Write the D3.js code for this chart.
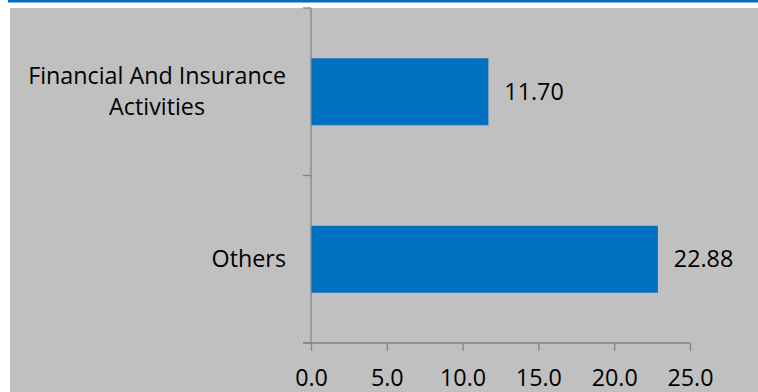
<!DOCTYPE html>
<html>
<head>
<meta charset="utf-8">
<script src="https://cdn.jsdelivr.net/npm/d3@7"></script>
<style>
  body { margin: 0; background: #fff; }
  text { font-family: "Open Sans", sans-serif; fill: #000; font-variant-ligatures: none; }
</style>
</head>
<body>
<div class="chart"></div>
<script>
var width = 758
  , height = 392
  , fontSize = 23.3
  ;

var categories = ["Financial And Insurance Activities", "Others"];
var categoryLines = [["Financial And Insurance", "Activities"], ["Others"]];
var values = [11.70, 22.88];
var tickValues = [0, 5, 10, 15, 20, 25];

var svg = d3.select(".chart").append("svg")
  .attr("width", width)
  .attr("height", height);

// blue strip across the top, then the grey plot panel
svg.append("rect")
  .attr("x", 8).attr("y", 0)
  .attr("width", width - 8).attr("height", 2.5)
  .attr("fill", "#0070c0");

svg.append("rect")
  .attr("x", 10).attr("y", 8)
  .attr("width", width - 10).attr("height", height - 8)
  .attr("fill", "#c0c0c0");

var x = d3.scaleLinear().domain([0, 25]).range([311, 690]);
var y = d3.scaleBand().domain(categories).range([8, 343])
  .paddingInner(0.6).paddingOuter(0.3);

// bars
svg.selectAll("rect.bar")
  .data(categories)
  .enter().append("rect")
    .attr("class", "bar")
    .attr("x", x(0))
    .attr("y", function(d) { return y(d); })
    .attr("width", function(d, i) { return x(values[i]) - x(0); })
    .attr("height", y.bandwidth())
    .attr("fill", "#0070c0");

// value labels
svg.selectAll("text.value")
  .data(categories)
  .enter().append("text")
    .attr("class", "value")
    .attr("x", function(d, i) { return x(values[i]) + 16; })
    .attr("y", function(d) { return y(d) + y.bandwidth() / 2; })
    .attr("dy", "0.35em")
    .attr("font-size", fontSize)
    .text(function(d, i) { return values[i].toFixed(2); });

// x axis
var xAxis = d3.axisBottom(x)
  .tickValues(tickValues)
  .tickFormat(d3.format(".1f"))
  .tickSize(8)
  .tickSizeOuter(0);

var gx = svg.append("g")
  .attr("transform", "translate(0,343)")
  .call(xAxis);
gx.select(".domain").remove();
gx.selectAll(".tick line").attr("stroke", "#868686").attr("stroke-width", 1.3);
gx.selectAll(".tick text")
  .attr("y", 35)
  .attr("dy", "0.35em")
  .attr("font-size", fontSize)
  .attr("font-family", "'Open Sans', sans-serif");

svg.append("line")
  .attr("x1", 303).attr("x2", x(25))
  .attr("y1", 343).attr("y2", 343)
  .attr("stroke", "#868686").attr("stroke-width", 1.3);

// category axis with ticks between the bands
var y0 = y.range()[0];
svg.append("line")
  .attr("x1", x(0)).attr("x2", x(0))
  .attr("y1", y0).attr("y2", y.range()[1])
  .attr("stroke", "#868686").attr("stroke-width", 1.3);

svg.selectAll("line.ytick")
  .data(d3.range(categories.length + 1))
  .enter().append("line")
    .attr("class", "ytick")
    .attr("x1", 303).attr("x2", x(0))
    .attr("y1", function(i) { return y0 + i * y.step(); })
    .attr("y2", function(i) { return y0 + i * y.step(); })
    .attr("stroke", "#868686").attr("stroke-width", 1.3);

// category labels, wrapped lines centred on a right-aligned block
var lineHeight = 31;
var labels = svg.selectAll("g.label")
  .data(categories)
  .enter().append("g")
    .attr("class", "label");

labels.each(function(d, i) {
  var g = d3.select(this);
  var lines = categoryLines[i];
  var cy = y(d) + y.bandwidth() / 2;
  var t = g.selectAll("text")
    .data(lines)
    .enter().append("text")
      .attr("font-size", fontSize)
      .attr("dy", "0.35em")
      .attr("y", function(l, j) { return cy + (j - (lines.length - 1) / 2) * lineHeight; })
      .text(function(l) { return l; });
  var w = d3.max(t.nodes(), function(n) { return n.getComputedTextLength(); });
  var right = 286;
  t.attr("text-anchor", "middle").attr("x", right - w / 2);
});
</script>
</body>
</html>
